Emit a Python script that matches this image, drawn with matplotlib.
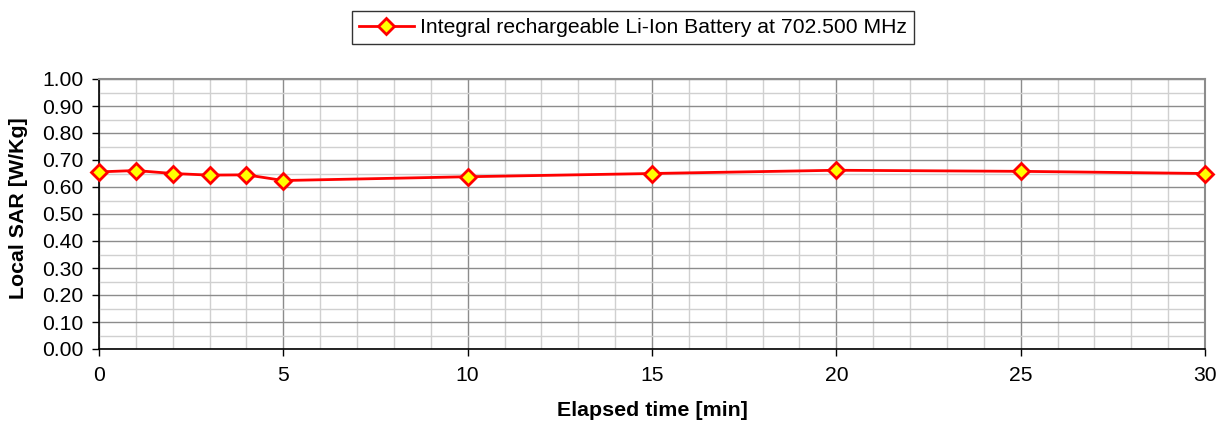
import matplotlib
matplotlib.use("Agg")
import matplotlib.pyplot as plt
from matplotlib.ticker import MultipleLocator, FormatStrFormatter

plt.rcParams['font.family'] = ['Liberation Sans', 'DejaVu Sans']

time_min = [0, 1, 2, 3, 4, 5, 10, 15, 20, 25, 30]
sar_values = [0.656, 0.661, 0.650, 0.644, 0.645, 0.624, 0.638, 0.650, 0.662, 0.658, 0.650]
series_label = "Integral rechargeable Li-Ion Battery at 702.500 MHz"
x_label = "Elapsed time [min]"
y_label = "Local SAR [W/Kg]"

fig = plt.figure(figsize=(12.29, 4.30), dpi=100)
ax = fig.add_axes([99/1229, 1-349/430, (1205-99)/1229, (349-79)/430])

ax.set_xlim(0, 30)
ax.set_ylim(0, 1.0)
ax.xaxis.set_major_locator(MultipleLocator(5))
ax.xaxis.set_minor_locator(MultipleLocator(1))
ax.yaxis.set_major_locator(MultipleLocator(0.1))
ax.yaxis.set_minor_locator(MultipleLocator(0.05))
ax.yaxis.set_major_formatter(FormatStrFormatter('%.2f'))

ax.grid(which='major', color='#8c8c8c', linewidth=1.0)
ax.grid(which='minor', color='#d0d0d0', linewidth=1.0)
ax.set_axisbelow(True)

ax.plot(time_min, sar_values, color='#ff0000', linewidth=2.0, marker='D',
        markersize=8, markerfacecolor='#ffff00', markeredgecolor='#ff0000',
        markeredgewidth=2.0, label=series_label, clip_on=False, zorder=5)

for s in ['left', 'bottom']:
    ax.spines[s].set_color('black')
    ax.spines[s].set_linewidth(1.2)
for s in ['top', 'right']:
    ax.spines[s].set_color('#8c8c8c')
    ax.spines[s].set_linewidth(1.5)

ax.tick_params(which='major', direction='out', length=5, width=1, labelsize=15.2, colors='black')
ax.tick_params(which='minor', length=0)
ax.tick_params(axis='x', pad=7)
ax.tick_params(axis='y', pad=6)

ax.set_xlabel(x_label, fontsize=15.4, fontweight='bold', labelpad=12)
ax.set_ylabel(y_label, fontsize=15.4, fontweight='bold')
ax.yaxis.set_label_coords(-0.064, 0.52)

leg = fig.legend(loc='center', bbox_to_anchor=(633/1229, 1-27.5/430), fontsize=15.2,
                 frameon=True, fancybox=False, handlelength=2.6, handletextpad=0.3,
                 borderpad=0.35, borderaxespad=0)
leg.get_frame().set_edgecolor('black')
leg.get_frame().set_linewidth(1.0)

fig.savefig('out.png', dpi=100)
